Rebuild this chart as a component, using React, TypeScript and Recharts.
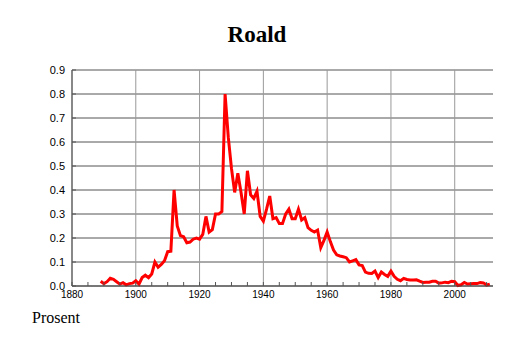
import React from 'react';
import { LineChart, Line, XAxis, YAxis, CartesianGrid, ReferenceLine } from 'recharts';

const years = [
  1889, 1890, 1891, 1892, 1893, 1894, 1895, 1896, 1897, 1898, 1899,
  1900, 1901, 1902, 1903, 1904, 1905, 1906, 1907, 1908, 1909,
  1910, 1911, 1912, 1913, 1914, 1915, 1916, 1917, 1918, 1919,
  1920, 1921, 1922, 1923, 1924, 1925, 1926, 1927, 1928, 1929,
  1930, 1931, 1932, 1933, 1934, 1935, 1936, 1937, 1938, 1939,
  1940, 1941, 1942, 1943, 1944, 1945, 1946, 1947, 1948, 1949,
  1950, 1951, 1952, 1953, 1954, 1955, 1956, 1957, 1958, 1959,
  1960, 1961, 1962, 1963, 1964, 1965, 1966, 1967, 1968, 1969,
  1970, 1971, 1972, 1973, 1974, 1975, 1976, 1977, 1978, 1979,
  1980, 1981, 1982, 1983, 1984, 1985, 1986, 1987, 1988, 1989,
  1990, 1991, 1992, 1993, 1994, 1995, 1996, 1997, 1998, 1999,
  2000, 2001, 2002, 2003, 2004, 2005, 2006, 2007, 2008, 2009,
  2010, 2011,
];

const prosent = [
  0.02, 0.01, 0.018, 0.032, 0.028, 0.018, 0.008, 0.014, 0.005, 0.01, 0.012,
  0.022, 0.008, 0.035, 0.045, 0.035, 0.05, 0.1, 0.078, 0.09, 0.105,
  0.143, 0.145, 0.4, 0.25, 0.21, 0.205, 0.18, 0.183, 0.195, 0.2,
  0.195, 0.215, 0.29, 0.225, 0.235, 0.3, 0.3, 0.31, 0.8, 0.62,
  0.49, 0.39, 0.47, 0.39, 0.3, 0.48, 0.38, 0.365, 0.395, 0.29,
  0.27, 0.32, 0.375, 0.28, 0.285, 0.26, 0.26, 0.3, 0.32, 0.28,
  0.28, 0.32, 0.275, 0.285, 0.243, 0.232, 0.225, 0.233, 0.16, 0.19,
  0.225, 0.185, 0.15, 0.13, 0.125, 0.122, 0.118, 0.1, 0.105, 0.11,
  0.088, 0.085, 0.058, 0.053, 0.052, 0.062, 0.035, 0.058, 0.048, 0.04,
  0.062, 0.04, 0.028, 0.022, 0.032, 0.027, 0.025, 0.025, 0.026, 0.02,
  0.015, 0.016, 0.016, 0.02, 0.02, 0.012, 0.013, 0.016, 0.014, 0.02,
  0.018, 0.002, 0.005, 0.015, 0.008, 0.009, 0.01, 0.01, 0.014, 0.013,
  0.004, 0.008,
];

const xTicks = [
  1880, 1885, 1890, 1895, 1900, 1905, 1910, 1915, 1920, 1925, 1930, 1935,
  1940, 1945, 1950, 1955, 1960, 1965, 1970, 1975, 1980, 1985, 1990, 1995,
  2000, 2005, 2010,
];
const xLabelTicks = [1880, 1900, 1920, 1940, 1960, 1980, 2000];
const yTicks = [0, 0.1, 0.2, 0.3, 0.4, 0.5, 0.6, 0.7, 0.8, 0.9];

const title = 'Roald';
const yLabel = 'Prosent';

const data = years.map((y, i) => ({ year: y, value: prosent[i] }));

const XTick = (props: any) => {
  const { x, y, payload } = props;
  const v = payload.value;
  const showLabel = xLabelTicks.includes(v);
  return (
    <g>
      <line x1={x} y1={y} x2={x} y2={y - 4} stroke="#555" strokeWidth={1} />
      {showLabel && (
        <text x={x} y={y + 12} textAnchor="middle" fontFamily="Liberation Sans, Arial, sans-serif" fontSize={10} fill="#000">
          {v}
        </text>
      )}
    </g>
  );
};

const YTick = (props: any) => {
  const { x, y, payload } = props;
  return (
    <g>
      <line x1={x} y1={y} x2={x + 4} y2={y} stroke="#555" strokeWidth={1} />
      <text x={x - 7} y={y + 4} textAnchor="end" fontFamily="Liberation Sans, Arial, sans-serif" fontSize={11} fill="#000">
        {payload.value.toFixed(1)}
      </text>
    </g>
  );
};

export default function App() {
  return (
    <div style={{ position: 'absolute', left: 0, top: 0, width: 514, height: 343, background: '#fff' }}>
      <LineChart
        width={514}
        height={343}
        data={data}
        margin={{ top: 70, right: 21, bottom: 27, left: 32 }}
      >
        <CartesianGrid vertical={false} stroke="#555" strokeWidth={1} />
        {xLabelTicks.map((t) => (
          <ReferenceLine key={t} x={t} stroke="#999" strokeWidth={1} />
        ))}
        <XAxis
          dataKey="year"
          type="number"
          domain={[1880, 2012]}
          ticks={xTicks}
          interval={0}
          tickSize={0}
          tickMargin={0}
          tickLine={false}
          height={30}
          stroke="#444"
          tick={<XTick />}
        />
        <YAxis
          type="number"
          domain={[0, 0.9]}
          ticks={yTicks}
          interval={0}
          tickSize={0}
          tickMargin={0}
          tickLine={false}
          width={40}
          stroke="#444"
          tick={<YTick />}
        />
        <Line
          type="linear"
          dataKey="value"
          stroke="#ff0000"
          strokeWidth={3}
          dot={false}
          isAnimationActive={false}
        />
      </LineChart>
      <svg width={514} height={343} style={{ position: 'absolute', left: 0, top: 0, pointerEvents: 'none' }}>
        <text x={257} y={42} textAnchor="middle" fontFamily="Liberation Serif, Times New Roman, serif" fontWeight="bold" fontSize={23} fill="#000">
          {title}
        </text>
        <text x={32} y={323} fontFamily="Liberation Serif, Times New Roman, serif" fontSize={16} fill="#000">
          {yLabel}
        </text>
      </svg>
    </div>
  );
}
